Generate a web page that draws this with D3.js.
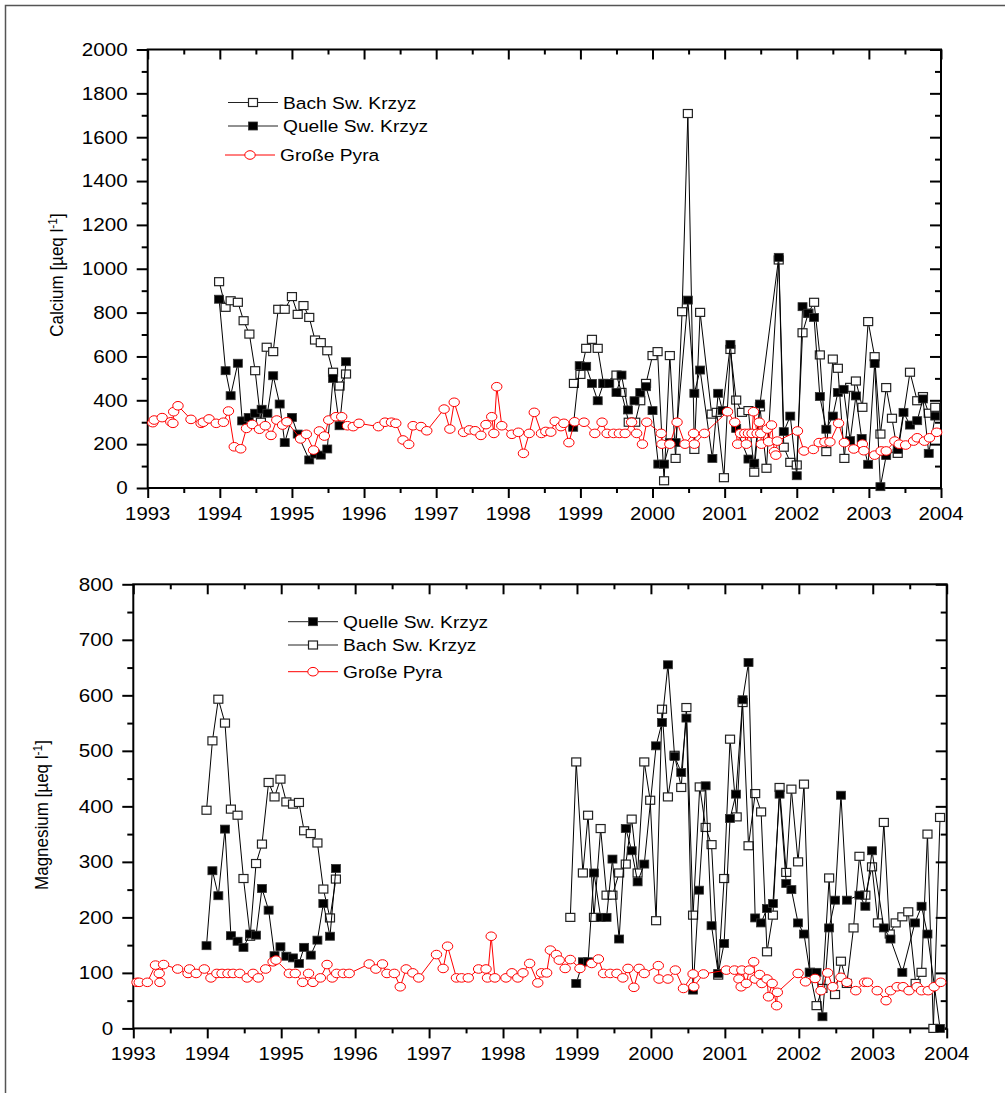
<!DOCTYPE html>
<html><head><meta charset="utf-8">
<script src="https://cdn.jsdelivr.net/npm/d3@7"></script>
<style>body{margin:0;background:#fff}svg{display:block}</style>
</head><body>
<svg id="c" width="1005" height="1093"></svg>
<script>
// ---------- tick labels ----------
const yearTicks = [1993,1994,1995,1996,1997,1998,1999,2000,2001,2002,2003,2004];
const caTicks = [0,200,400,600,800,1000,1200,1400,1600,1800,2000];
const mgTicks = [0,100,200,300,400,500,600,700,800];

// ---------- Calcium (top) ----------
const caBachYears = [1993.99,1994.08,1994.15,1994.25,1994.33,1994.41,1994.49,1994.57,1994.65,1994.74,1994.81,1994.90,1995.00,1995.08,1995.16,1995.24,1995.32,1995.40,1995.49,1995.57,1995.66,1995.75,null,
 1998.91,1999.00,1999.08,1999.16,1999.24,1999.32,1999.50,1999.57,1999.67,1999.76,1999.83,1999.91,2000.00,2000.07,2000.16,2000.24,2000.32,2000.41,2000.49,2000.58,2000.66,2000.82,2000.89,2000.99,2001.08,2001.16,2001.24,2001.33,2001.41,2001.49,2001.58,2001.75,2001.82,2001.91,2002.00,2002.08,2002.16,2002.24,2002.32,2002.41,2002.50,2002.57,2002.66,2002.74,2002.82,2002.91,2002.99,2003.08,2003.16,2003.24,2003.32,2003.40,2003.57,2003.67,2003.75,2003.83,2003.92];
const caBachValues = [941,824,854,847,763,702,535,300,642,622,815,815,873,792,832,778,675,663,626,528,465,520,null,
 477,518,637,678,637,477,515,436,300,300,398,477,604,622,33,604,135,804,1708,176,801,337,345,47,632,401,345,353,72,370,90,1040,186,117,105,708,797,847,607,166,588,546,135,459,488,368,759,599,246,458,318,158,528,398,417,341,368];

const caQuelleYears = [1993.99,1994.08,1994.15,1994.25,1994.31,1994.40,1994.49,1994.58,1994.66,1994.74,1994.83,1994.90,1995.00,1995.08,1995.24,1995.32,1995.40,1995.49,1995.57,1995.66,1995.75,null,
 1998.90,1998.99,1999.08,1999.16,1999.24,1999.32,1999.40,1999.50,1999.57,1999.66,1999.75,1999.83,1999.91,2000.00,2000.08,2000.16,2000.24,2000.32,2000.49,2000.58,2000.66,2000.83,2000.91,2000.97,2001.08,2001.16,2001.33,2001.41,2001.49,2001.75,2001.82,2001.91,2002.00,2002.08,2002.16,2002.24,2002.32,2002.41,2002.50,2002.57,2002.65,2002.74,2002.82,2002.90,2002.99,2003.08,2003.16,2003.24,2003.40,2003.48,2003.57,2003.67,2003.75,2003.83,2003.92];
const caQuelleValues = [861,535,421,569,306,322,341,359,341,512,383,207,322,246,128,155,150,178,500,284,576,null,
 277,558,555,477,398,477,477,436,515,356,398,436,462,353,109,109,207,207,857,432,538,135,432,353,655,272,132,113,383,1052,257,328,56,827,797,778,417,268,328,436,450,216,420,226,108,568,6,148,176,345,287,307,406,158,328];

const caPyraYears = [1993.07,1993.09,1993.20,1993.32,1993.35,1993.36,1993.42,1993.60,1993.74,1993.77,1993.85,1993.95,1994.05,1994.12,1994.20,1994.29,1994.37,1994.45,1994.55,1994.63,1994.71,1994.79,1994.87,1994.93,1995.12,1995.20,1995.30,1995.38,1995.45,1995.51,1995.61,1995.69,1995.77,1995.85,1995.93,
 1996.20,1996.29,1996.38,1996.44,1996.54,1996.62,1996.68,1996.79,1996.87,1997.11,1997.19,1997.25,1997.38,1997.46,1997.54,1997.62,1997.69,1997.77,1997.80,1997.84,1997.91,1998.05,1998.14,1998.21,1998.29,1998.36,1998.46,1998.52,1998.59,1998.65,1998.73,1998.77,1998.84,1998.92,
 1999.05,1999.20,1999.30,1999.37,1999.46,1999.54,1999.62,1999.71,1999.78,1999.86,1999.92,2000.12,2000.13,2000.24,2000.34,2000.45,2000.57,2000.58,2000.72,2001.04,2001.14,2001.18,2001.22,2001.28,2001.30,2001.33,2001.38,2001.40,2001.45,2001.48,2001.50,2001.51,2001.59,2001.61,2001.65,2001.69,2001.71,2001.73,
 2002.01,2002.10,2002.23,2002.31,2002.39,2002.46,2002.58,2002.66,2002.79,2002.91,2002.93,2003.08,2003.17,2003.24,2003.36,2003.42,2003.51,2003.62,2003.67,2003.77,2003.84,2003.94];
const caPyraValues = [298,310,321,302,295,348,375,313,295,300,315,295,300,351,188,179,272,290,268,284,240,310,287,302,224,245,173,260,237,310,325,325,284,280,295,
 280,300,300,295,219,199,284,280,261,360,269,391,254,265,261,240,289,325,249,462,284,245,254,158,249,345,249,258,255,304,280,295,207,302,
 300,249,300,249,249,249,249,300,249,200,300,249,200,200,300,200,249,200,249,348,300,200,249,249,200,249,249,348,249,300,249,200,269,211,287,166,150,214,
 260,169,176,207,210,210,295,207,178,200,170,150,169,169,214,200,196,214,229,214,229,254];

// ---------- Magnesium (bottom) ----------
const mgQuelleYears = [1993.99,1994.07,1994.15,1994.24,1994.32,1994.41,1994.49,1994.58,1994.66,1994.74,1994.83,1994.91,1994.99,1995.07,1995.16,1995.24,1995.31,1995.40,1995.49,1995.57,1995.66,1995.74,null,
 1998.99,1999.08,1999.15,1999.23,1999.32,1999.40,1999.48,1999.57,1999.66,1999.74,1999.82,1999.91,2000.07,2000.15,2000.23,2000.32,2000.41,2000.48,2000.57,2000.65,2000.74,2000.82,2000.91,2000.99,2001.07,2001.15,2001.24,2001.32,2001.41,2001.49,2001.57,2001.65,2001.74,2001.83,2001.90,2001.99,2002.07,2002.15,2002.24,2002.32,2002.41,2002.49,2002.57,2002.65,2002.82,2002.90,2002.99,2003.15,2003.24,2003.40,2003.57,2003.66,2003.74,2003.91];
const mgQuelleValues = [149,284,239,359,167,157,146,170,168,252,213,131,147,130,127,117,146,132,159,225,166,288,null,
 81,120,120,280,200,200,305,161,360,320,264,296,509,551,655,490,461,559,69,249,437,185,99,153,378,422,592,659,199,190,216,225,422,261,250,190,170,101,101,21,181,231,420,231,240,220,320,181,161,101,190,220,170,0];

const mgBachYears = [1993.99,1994.07,1994.15,1994.24,1994.32,1994.41,1994.49,1994.58,1994.66,1994.74,1994.83,1994.91,1994.99,1995.07,1995.16,1995.24,1995.31,1995.40,1995.49,1995.57,1995.66,1995.74,null,
 1998.91,1998.99,1999.08,1999.15,1999.23,1999.32,1999.40,1999.48,1999.57,1999.66,1999.74,1999.82,1999.91,1999.99,2000.07,2000.15,2000.23,2000.32,2000.41,2000.48,2000.57,2000.66,2000.74,2000.82,2000.91,2000.99,2001.07,2001.16,2001.24,2001.32,2001.41,2001.49,2001.57,2001.65,2001.74,2001.83,2001.90,2001.99,2002.07,2002.15,2002.24,2002.32,2002.41,2002.49,2002.57,2002.65,2002.74,2002.82,2002.90,2002.99,2003.07,2003.15,2003.23,2003.31,2003.40,2003.48,2003.58,2003.66,2003.74,2003.82,2003.91];
const mgBachValues = [393,518,593,550,395,384,270,166,297,332,443,417,449,408,404,407,356,351,334,251,199,269,null,
 200,480,280,384,200,360,240,240,280,296,377,280,480,411,194,575,417,492,434,578,204,435,362,331,96,270,521,381,587,329,423,390,138,204,434,281,431,300,440,101,41,72,271,61,121,81,181,310,240,291,190,371,170,190,201,210,81,101,350,0,380];

const mgPyraYears = [1993.05,1993.08,1993.19,1993.30,1993.35,1993.36,1993.41,1993.60,1993.74,1993.76,1993.85,1993.96,1994.05,1994.13,1994.20,1994.28,1994.35,1994.44,1994.54,1994.62,1994.69,1994.79,1994.89,1994.93,1995.11,1995.19,1995.29,1995.37,1995.43,1995.53,1995.62,1995.69,1995.75,1995.84,1995.92,
 1996.19,1996.28,1996.37,1996.43,1996.53,1996.61,1996.69,1996.78,1996.86,1997.10,1997.19,1997.25,1997.37,1997.44,1997.53,1997.67,1997.77,1997.79,1997.84,1997.89,1998.04,1998.12,1998.20,1998.27,1998.36,1998.47,1998.52,1998.59,1998.64,1998.72,1998.76,1998.84,1998.91,
 1999.04,1999.20,1999.29,1999.36,1999.45,1999.54,1999.62,1999.69,1999.77,1999.84,1999.91,2000.10,2000.11,2000.23,2000.33,2000.44,2000.57,2000.58,2000.71,2001.02,2001.13,2001.19,2001.22,2001.23,2001.29,2001.33,2001.39,2001.41,2001.47,2001.50,2001.57,2001.59,2001.64,2001.70,2001.71,
 2001.99,2002.09,2002.22,2002.30,2002.39,2002.46,2002.57,2002.65,2002.77,2002.89,2002.93,2003.06,2003.18,2003.24,2003.33,2003.41,2003.49,2003.60,2003.66,2003.75,2003.83,2003.92];
const mgPyraValues = [83,83,83,114,99,83,115,107,99,107,99,107,91,99,99,99,99,99,91,99,91,107,120,123,99,99,83,99,83,91,115,91,99,99,99,
 116,107,116,99,99,75,107,100,91,133,108,148,91,91,91,107,107,91,166,91,91,100,91,100,117,82,100,100,141,133,123,108,124,
 108,117,125,99,99,99,91,108,74,108,99,113,89,89,105,72,98,75,98,105,105,89,75,105,81,105,120,89,97,81,89,57,81,41,65,
 99,84,90,68,100,75,92,83,68,83,83,68,50,68,75,75,68,75,68,68,75,83];

const caLegend = ["Bach Sw. Krzyz","Quelle Sw. Krzyz","Große Pyra"];
const mgLegend = ["Quelle Sw. Krzyz","Bach Sw. Krzyz","Große Pyra"];

// ---------- drawing ----------
const svg = d3.select("#c");
const FONT = "Arial, 'Liberation Sans', sans-serif";
const SX = 1.13;

svg.append("path").attr("d","M5.5,1093 V5.5 H1005").attr("fill","none").attr("stroke","#555").attr("stroke-width",1.5);

function zip(xs, ys){ return xs.map((d,i)=>[d, ys[i]]); }

function stretchedText(g, x, y, txt, size, anchor, sx){
  return g.append("text").attr("transform",`translate(${x},${y}) scale(${sx},1)`)
    .attr("font-family",FONT).attr("font-size",size).attr("text-anchor",anchor).attr("fill","#000").text(txt);
}

function panel(cfg){
  const x = d3.scaleLinear().domain([1993,2004]).range([cfg.x0, cfg.x1]);
  const y = d3.scaleLinear().domain([0, cfg.ymax]).range([cfg.yBot, cfg.yTop]);
  const g = svg.append("g");
  const minorX = d3.range(1993.5, 2004, 1);
  const minorY = d3.range(cfg.ystep/2, cfg.ymax, cfg.ystep);

  const style = (sel, w) => { sel.select(".domain").remove(); sel.selectAll("line").attr("stroke","#000").attr("stroke-width",w); };
  g.append("g").attr("transform",`translate(0,${cfg.yBot})`).call(d3.axisBottom(x).tickValues(yearTicks).tickSize(10).tickFormat("")).call(s=>style(s,2));
  g.append("g").attr("transform",`translate(0,${cfg.yBot})`).call(d3.axisBottom(x).tickValues(minorX).tickSize(5).tickFormat("")).call(s=>style(s,2));
  g.append("g").attr("transform",`translate(0,${cfg.yTop})`).call(d3.axisTop(x).tickValues(yearTicks).tickSize(-10).tickFormat("")).call(s=>style(s,2));
  g.append("g").attr("transform",`translate(0,${cfg.yTop})`).call(d3.axisTop(x).tickValues(minorX).tickSize(-5).tickFormat("")).call(s=>style(s,2));
  g.append("g").attr("transform",`translate(${cfg.x0},0)`).call(d3.axisLeft(y).tickValues(cfg.ticks).tickSize(11).tickFormat("")).call(s=>style(s,2));
  g.append("g").attr("transform",`translate(${cfg.x0},0)`).call(d3.axisLeft(y).tickValues(minorY).tickSize(6).tickFormat("")).call(s=>style(s,2));
  g.append("g").attr("transform",`translate(${cfg.x1},0)`).call(d3.axisRight(y).tickValues(cfg.ticks).tickSize(-11).tickFormat("")).call(s=>style(s,2));
  g.append("g").attr("transform",`translate(${cfg.x1},0)`).call(d3.axisRight(y).tickValues(minorY).tickSize(-6).tickFormat("")).call(s=>style(s,2));
  g.append("rect").attr("x",cfg.x0).attr("y",cfg.yTop).attr("width",cfg.x1-cfg.x0).attr("height",cfg.yBot-cfg.yTop)
    .attr("fill","none").attr("stroke","#000").attr("stroke-width",2);

  yearTicks.forEach(t => stretchedText(g, x(t), cfg.yBot+32, t, 19, "middle", 1.07));
  cfg.ticks.forEach(t => stretchedText(g, cfg.x0-20, y(t)+6.3, t, 17.5, "end", 1.18));

  const tt = g.append("text").attr("transform",`translate(${cfg.titleX},${cfg.titleY}) scale(1.05,1) rotate(-90)`)
    .attr("font-family",FONT).attr("font-size",17).attr("text-anchor","middle");
  tt.append("tspan").text(cfg.title+" [µeq l");
  tt.append("tspan").attr("font-size",12).attr("dy",-6).text("-1");
  tt.append("tspan").attr("dy",6).text("]");

  const line = d3.line().defined(d=>d[0]!=null && d[1]!=null).x(d=>x(d[0])).y(d=>y(d[1]));
  cfg.series.forEach(s => {
    const data = zip(s.years, s.values);
    const pts = data.filter(d=>d[0]!=null && d[1]!=null);
    const sg = g.append("g");
    sg.append("path").attr("d", line(data)).attr("fill","none").attr("stroke", s.kind==="circle" ? "#ff0000" : "#000").attr("stroke-width",1);
    drawMarkers(sg, pts.map(d=>[x(d[0]), y(d[1])]), s.kind);
  });

  cfg.legend.forEach((lg, i) => {
    const lgY = cfg.legY[i];
    const lx0 = cfg.legX0[i], lx1 = lx0+50, mx = lx0+25;
    const red = lg.kind === "circle";
    g.append("line").attr("x1",lx0).attr("x2",lx1).attr("y1",lgY).attr("y2",lgY).attr("stroke", red?"#ff0000":"#222").attr("stroke-width",1);
    drawMarkers(g, [[mx, lgY]], lg.kind);
    stretchedText(g, lx1+5, lgY+6, lg.name, 17, "start", SX);
  });
}

function drawMarkers(g, pts, kind){
  if (kind === "circle") {
    g.selectAll(null).data(pts).join("ellipse").attr("cx",d=>d[0]).attr("cy",d=>d[1]).attr("rx",5.2).attr("ry",4.3)
      .attr("fill","#fff").attr("stroke","#ff0000").attr("stroke-width",1);
  } else if (kind === "open") {
    g.selectAll(null).data(pts).join("rect").attr("x",d=>d[0]-4.5).attr("y",d=>d[1]-4).attr("width",9).attr("height",8)
      .attr("fill","#fff").attr("stroke","#222").attr("stroke-width",1.2);
  } else {
    g.selectAll(null).data(pts).join("rect").attr("x",d=>d[0]-4.5).attr("y",d=>d[1]-4).attr("width",9).attr("height",8)
      .attr("fill","#000").attr("stroke","#333").attr("stroke-width",0.8);
  }
}

panel({
  x0:147.7, x1:941, yTop:49.5, yBot:488, ymax:2000, ystep:200, ticks:caTicks,
  title:"Calcium", titleX:63, titleY:275,
  series:[
    {years:caBachYears, values:caBachValues, kind:"open"},
    {years:caQuelleYears, values:caQuelleValues, kind:"filled"},
    {years:caPyraYears, values:caPyraValues, kind:"circle"}
  ],
  legend:[{name:caLegend[0],kind:"open"},{name:caLegend[1],kind:"filled"},{name:caLegend[2],kind:"circle"}],
  legY:[102.5,126,155], legX0:[228,228,225]
});

panel({
  x0:133.3, x1:946.7, yTop:584.3, yBot:1028.4, ymax:800, ystep:100, ticks:mgTicks,
  title:"Magnesium", titleX:48, titleY:815,
  series:[
    {years:mgBachYears, values:mgBachValues, kind:"open"},
    {years:mgQuelleYears, values:mgQuelleValues, kind:"filled"},
    {years:mgPyraYears, values:mgPyraValues, kind:"circle"}
  ],
  legend:[{name:mgLegend[0],kind:"filled"},{name:mgLegend[1],kind:"open"},{name:mgLegend[2],kind:"circle"}],
  legY:[621.7,645,671.7], legX0:[288,288,288]
});
</script>
</body></html>
